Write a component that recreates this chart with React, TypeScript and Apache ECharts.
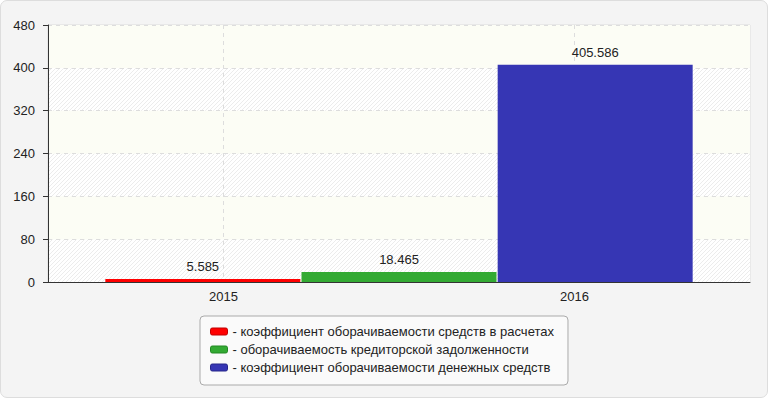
import React, { useEffect, useRef } from "react";
import * as echarts from "echarts";

const years = ["2015", "2016"];
const seriesNames = [
  "коэффициент оборачиваемости средств в расчетах",
  "оборачиваемость кредиторской задолженности",
  "коэффициент оборачиваемости денежных средств",
];
const seriesValues = [5.585, 18.465, 405.586];
const seriesColors = ["#ff0000", "#33aa33", "#3636b4"];
const seriesBorders = ["#c00000", "#228822", "#26268a"];
const yTicks = { min: 0, max: 480, interval: 80 };

function makeHatch(): HTMLCanvasElement {
  const c = document.createElement("canvas");
  c.width = 4;
  c.height = 4;
  const ctx = c.getContext("2d")!;
  ctx.fillStyle = "#ffffff";
  ctx.fillRect(0, 0, 4, 4);
  ctx.strokeStyle = "#ececec";
  ctx.lineWidth = 1;
  ctx.beginPath();
  ctx.moveTo(0, 4);
  ctx.lineTo(4, 0);
  ctx.moveTo(-1, 1);
  ctx.lineTo(1, -1);
  ctx.moveTo(3, 5);
  ctx.lineTo(5, 3);
  ctx.stroke();
  return c;
}

export default function App() {
  const ref = useRef<HTMLDivElement>(null);
  useEffect(() => {
    if (!ref.current) return;
    const chart = echarts.init(ref.current, null, { renderer: "svg" });
    const font = "'Liberation Sans', Arial, sans-serif";
    const hatch = { image: makeHatch(), repeat: "repeat" } as any;
    chart.setOption({
      animation: false,
      backgroundColor: "transparent",
      textStyle: { fontFamily: font },
      grid: {
        left: 48,
        right: 20,
        top: 25,
        bottom: 118,
        show: true,
        borderColor: "#dddddd",
        borderWidth: 1,
        backgroundColor: "#fcfdf5",
      },
      legend: {
        orient: "vertical",
        left: 200,
        top: 316,
        padding: [9, 14, 11, 10],
        itemGap: 5,
        itemWidth: 17,
        itemHeight: 7,
        icon: "roundRect",
        backgroundColor: "#fafafa",
        borderColor: "#aaaaaa",
        borderWidth: 1,
        borderRadius: 4,
        formatter: (name: string) => "- " + name,
        textStyle: { fontSize: 13, color: "#222", fontFamily: font },
        data: seriesNames.map((n, i) => ({
          name: n,
          itemStyle: { color: seriesColors[i], borderColor: seriesBorders[i], borderWidth: 1 },
        })),
      },
      xAxis: [
        {
          type: "category",
          data: years,
          boundaryGap: true,
          axisLine: { lineStyle: { color: "#333" } },
          axisTick: { alignWithLabel: true, length: 5, lineStyle: { color: "#333" } },
          axisLabel: { color: "#222", fontSize: 13, margin: 8, fontFamily: font },
          splitLine: {
            show: true,
            alignWithLabel: true,
            lineStyle: { color: "#dddddd", type: [4, 4] },
          } as any,
        },
        {
          type: "category",
          data: ["all"],
          show: false,
          position: "bottom",
        },
      ],
      yAxis: {
        type: "value",
        min: yTicks.min,
        max: yTicks.max,
        interval: yTicks.interval,
        axisLine: { show: true, lineStyle: { color: "#333" } },
        axisTick: { show: true, length: 5, lineStyle: { color: "#333" } },
        axisLabel: { color: "#222", fontSize: 13, margin: 13, fontFamily: font },
        splitLine: { show: true, lineStyle: { color: "#dddddd", type: [4, 4] } },
        splitArea: { show: true, areaStyle: { color: [hatch, "#fcfdf5"] } },
      },
      series: seriesNames.map((n, i) => ({
        name: n,
        type: "bar",
        xAxisIndex: 1,
        data: [seriesValues[i]],
        barWidth: 195,
        barGap: "0.6%",
        itemStyle: { color: seriesColors[i] },
        label: {
          show: true,
          position: "top",
          distance: 6,
          color: "#222",
          fontSize: 13,
          fontFamily: font,
          formatter: (p: any) => String(p.value),
        },
      })),
    });
    return () => chart.dispose();
  }, []);
  return (
    <div style={{ position: "absolute", left: 0, top: 0, width: 770, height: 400, background: "#ffffff" }}>
      <div
        style={{
          position: "absolute",
          left: 0,
          top: 0,
          width: 766,
          height: 396,
          background: "#f4f4f4",
          border: "1px solid #dddddd",
          borderRadius: 7,
        }}
      />
      <div ref={ref} style={{ position: "absolute", left: 0, top: 0, width: 770, height: 400 }} />
    </div>
  );
}
